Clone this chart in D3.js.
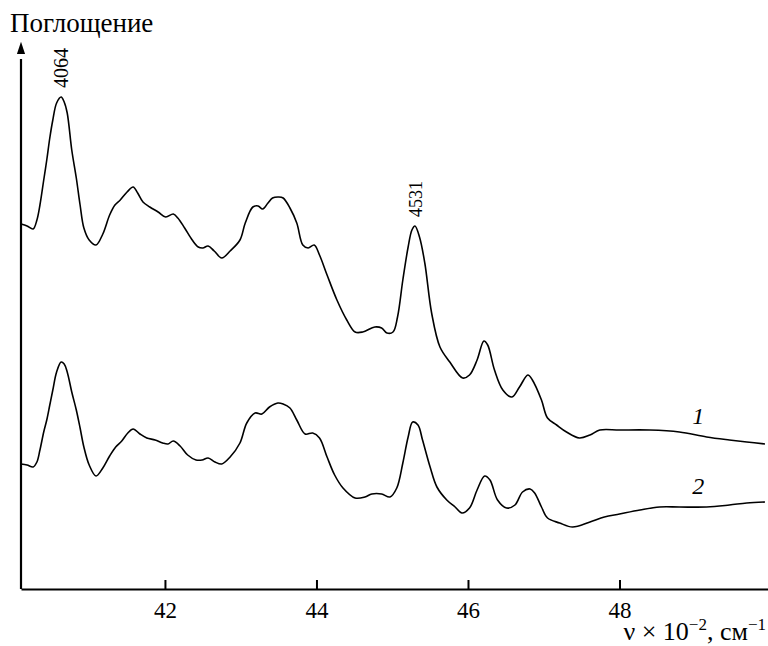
<!DOCTYPE html>
<html>
<head>
<meta charset="utf-8">
<script src="https://cdn.jsdelivr.net/npm/d3@7"></script>
<style>
    body { margin: 0; background: #fff; }
    svg { display: block; }
    text { font-family: "Liberation Serif", "DejaVu Serif", serif; }
</style>
</head>
<body>
<svg id="spectrumSvg" width="768" height="646"></svg>
<script>
// wavenumber (x 10^-2 cm^-1) and absorbance, curve 1
var nu1 = [40.10, 40.18, 40.26, 40.31, 40.35, 40.40, 40.44, 40.48, 40.52, 40.57, 40.63, 40.67, 40.71, 40.77, 40.83, 40.88, 40.93, 41.00, 41.09, 41.18,
    41.27, 41.34, 41.41, 41.50, 41.58, 41.64, 41.71, 41.80, 41.91, 42.01, 42.11, 42.17, 42.26, 42.36, 42.44, 42.50, 42.57, 42.65, 42.75, 42.86,
    42.99, 43.06, 43.16, 43.23, 43.29, 43.36, 43.42, 43.50, 43.56, 43.65, 43.74, 43.82, 43.89, 43.97, 44.04, 44.14, 44.27, 44.40, 44.51, 44.61,
    44.77, 44.86, 44.93, 45.01, 45.07, 45.14, 45.21, 45.26, 45.30, 45.36, 45.43, 45.52, 45.63, 45.76, 45.93, 46.02, 46.12, 46.21, 46.26, 46.35,
    46.46, 46.58, 46.68, 46.79, 46.85, 46.97, 47.05, 47.17, 47.30, 47.47, 47.61, 47.74, 48.00, 48.40, 48.79, 49.15, 49.45, 49.68, 49.92];
var abs1 = [0.730, 0.726, 0.720, 0.738, 0.768, 0.818, 0.858, 0.902, 0.938, 0.972, 0.984, 0.974, 0.952, 0.878, 0.822, 0.768, 0.722, 0.698, 0.688, 0.710,
    0.748, 0.768, 0.778, 0.794, 0.804, 0.792, 0.774, 0.764, 0.754, 0.744, 0.750, 0.742, 0.722, 0.698, 0.684, 0.682, 0.686, 0.676, 0.662, 0.676,
    0.698, 0.732, 0.764, 0.766, 0.760, 0.772, 0.782, 0.784, 0.782, 0.762, 0.732, 0.688, 0.682, 0.688, 0.668, 0.628, 0.578, 0.538, 0.514, 0.514,
    0.524, 0.522, 0.512, 0.514, 0.544, 0.618, 0.684, 0.718, 0.726, 0.704, 0.652, 0.552, 0.484, 0.454, 0.422, 0.428, 0.458, 0.496, 0.488, 0.438,
    0.398, 0.384, 0.404, 0.428, 0.418, 0.378, 0.342, 0.328, 0.314, 0.302, 0.308, 0.318, 0.318, 0.318, 0.314, 0.304, 0.298, 0.294, 0.290];

// curve 2
var nu2 = [40.10, 40.18, 40.26, 40.31, 40.35, 40.40, 40.44, 40.48, 40.52, 40.57, 40.63, 40.67, 40.71, 40.77, 40.83, 40.88, 40.93, 41.00, 41.09, 41.18,
    41.27, 41.35, 41.43, 41.51, 41.58, 41.67, 41.76, 41.87, 41.97, 42.04, 42.11, 42.20, 42.30, 42.41, 42.49, 42.57, 42.66, 42.75, 42.86, 42.99,
    43.08, 43.19, 43.28, 43.38, 43.49, 43.56, 43.65, 43.74, 43.85, 43.95, 44.04, 44.14, 44.24, 44.35, 44.51, 44.64, 44.73, 44.86, 44.97, 45.06,
    45.14, 45.21, 45.27, 45.34, 45.40, 45.50, 45.59, 45.72, 45.83, 45.92, 46.02, 46.12, 46.22, 46.29, 46.39, 46.51, 46.62, 46.72, 46.82, 46.88,
    46.97, 47.05, 47.21, 47.38, 47.61, 47.80, 48.00, 48.27, 48.53, 48.79, 49.15, 49.45, 49.68, 49.92];
var abs2 = [0.250, 0.248, 0.244, 0.254, 0.278, 0.314, 0.338, 0.368, 0.398, 0.434, 0.454, 0.450, 0.434, 0.394, 0.358, 0.322, 0.284, 0.248, 0.226, 0.242,
    0.266, 0.284, 0.296, 0.312, 0.320, 0.310, 0.302, 0.298, 0.292, 0.290, 0.296, 0.286, 0.268, 0.258, 0.258, 0.262, 0.254, 0.250, 0.264, 0.292,
    0.332, 0.352, 0.350, 0.364, 0.372, 0.370, 0.362, 0.338, 0.310, 0.312, 0.302, 0.264, 0.228, 0.202, 0.182, 0.184, 0.190, 0.190, 0.184, 0.202,
    0.252, 0.304, 0.334, 0.328, 0.298, 0.244, 0.204, 0.178, 0.164, 0.152, 0.162, 0.198, 0.226, 0.218, 0.178, 0.162, 0.168, 0.194, 0.200, 0.192,
    0.164, 0.142, 0.132, 0.124, 0.134, 0.144, 0.150, 0.158, 0.164, 0.164, 0.164, 0.168, 0.172, 0.174];

var xTicks = [42, 44, 46, 48];
var peakNu = [40.64, 45.31];
var peakText = ["4064", "4531"];
var peakAbs = [0.984, 0.726];
var curveNames = ["1", "2"];
var curveLabelAbs = [0.330, 0.190];
var curveLabelNu = 49.04;

var svg = d3.select("#spectrumSvg"),
    width = +svg.attr("width"),
    height = +svg.attr("height");

var x = d3.scaleLinear().domain([40.1, 49.96]).range([21, 768]);
var y = d3.scaleLinear().domain([0, 1.09]).range([589, 44]);

// x axis, ticks pointing up
var xAxis = d3.axisBottom(x)
    .tickValues(xTicks)
    .tickSizeInner(-9)
    .tickSizeOuter(0)
    .tickPadding(13)
    .tickFormat(d3.format("d"));

var gx = svg.append("g")
    .attr("transform", "translate(0," + y(0) + ")")
    .call(xAxis);
gx.attr("font-family", null).attr("font-size", null);
gx.select(".domain").attr("stroke-width", 2.2);
gx.selectAll(".tick line").attr("stroke-width", 2);
gx.selectAll(".tick text")
    .style("font-size", "23px")
    .attr("fill", "#000");

// y axis: plain line with arrow head
svg.append("line")
    .attr("x1", x(40.1)).attr("x2", x(40.1))
    .attr("y1", y(0)).attr("y2", y(1.06))
    .attr("stroke", "#000")
    .attr("stroke-width", 2.2);
svg.append("path")
    .attr("d", d3.symbol().type(d3.symbolTriangle).size(45)())
    .attr("transform", "translate(" + x(40.1) + "," + (y(1.09) + 6) + ") scale(0.8,1.4)")
    .attr("fill", "#000");

svg.append("text")
    .attr("x", 10)
    .attr("y", 32)
    .style("font-size", "27px")
    .text("Поглощение");

var xLabel = svg.append("text")
    .attr("x", 766)
    .attr("y", 640)
    .attr("text-anchor", "end")
    .style("font-size", "26px");
xLabel.append("tspan").text("ν × 10");
xLabel.append("tspan").attr("dy", -10).style("font-size", "17px").text("−2");
xLabel.append("tspan").attr("dy", 10).text(", см");
xLabel.append("tspan").attr("dy", -10).style("font-size", "17px").text("−1");

// spectra
var line = d3.line()
    .x(function (d) { return x(d[0]); })
    .y(function (d) { return y(d[1]); })
    .curve(d3.curveCatmullRom.alpha(0.5));

var series = [d3.zip(nu1, abs1), d3.zip(nu2, abs2)];

svg.append("g")
    .selectAll("path")
    .data(series)
    .enter().append("path")
    .attr("d", line)
    .attr("fill", "none")
    .attr("stroke", "#000")
    .attr("stroke-width", 1.6)
    .attr("stroke-linejoin", "round");

// peak labels
svg.append("g")
    .selectAll("text")
    .data(peakNu)
    .enter().append("text")
    .attr("transform", function (d, i) {
        return "translate(" + (x(d) + 6) + "," + (y(peakAbs[i]) - 9) + ") rotate(-90)";
    })
    .style("font-size", function (d, i) { return i === 0 ? "20px" : "18px"; })
    .text(function (d, i) { return peakText[i]; });

// curve numbers
svg.append("g")
    .selectAll("text")
    .data(curveNames)
    .enter().append("text")
    .attr("x", x(curveLabelNu))
    .attr("y", function (d, i) { return y(curveLabelAbs[i]); })
    .attr("text-anchor", "middle")
    .style("font-style", "italic")
    .style("font-size", "24px")
    .text(function (d) { return d; });
</script>
</body>
</html>
